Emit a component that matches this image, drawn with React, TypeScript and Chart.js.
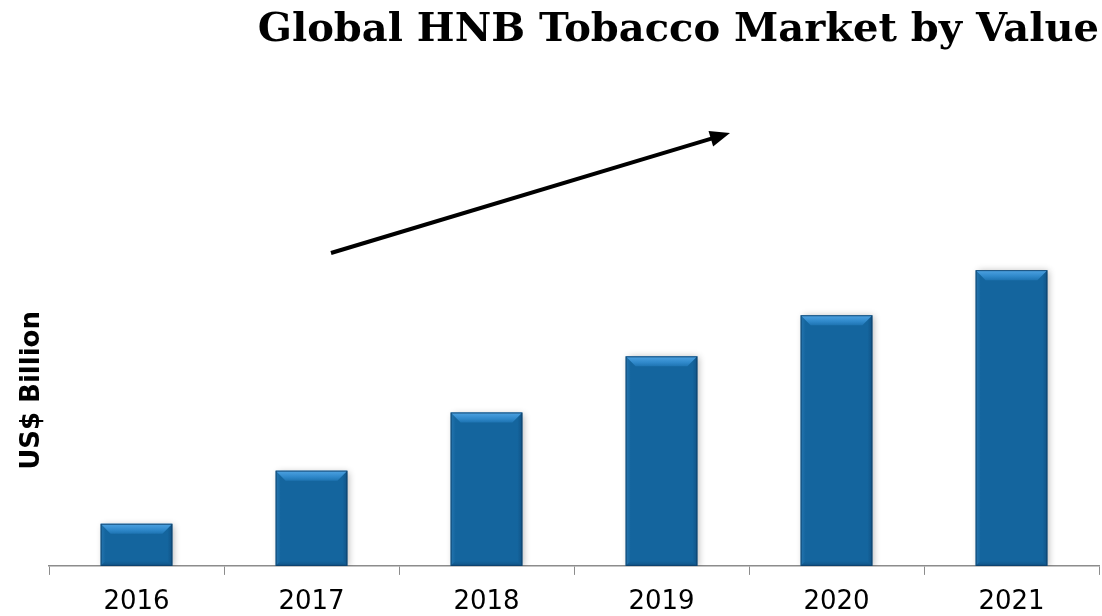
import React, { useEffect, useRef } from "react";
import { Chart, registerables } from "chart.js";

Chart.register(...registerables);

const categories = ["2016", "2017", "2018", "2019", "2020", "2021"];
const marketValue = [0.42, 0.95, 1.53, 2.09, 2.5, 2.95];
const yMax = 3.5;

const bevelPlugin = {
  id: "bevel",
  beforeDatasetDraw(chart: any) {
    const ctx = chart.ctx;
    ctx.save();
    ctx.shadowColor = "rgba(0,0,0,0.3)";
    ctx.shadowBlur = 7;
    ctx.shadowOffsetX = 2;
    ctx.shadowOffsetY = 1;
  },
  afterDatasetDraw(chart: any) {
    const ctx = chart.ctx;
    ctx.restore();
    const meta = chart.getDatasetMeta(0);
    meta.data.forEach((bar: any) => {
      const w = bar.width;
      const left = bar.x - w / 2;
      const right = bar.x + w / 2;
      const top = bar.y;
      const bottom = bar.base;
      const b = 10;
      const s = 5;
      ctx.save();
      // top bevel
      const g = ctx.createLinearGradient(0, top, 0, top + b);
      g.addColorStop(0, "#4fa3e2");
      g.addColorStop(0.6, "#3089cb");
      g.addColorStop(1, "#1e74b2");
      ctx.fillStyle = g;
      ctx.beginPath();
      ctx.moveTo(left, top);
      ctx.lineTo(right, top);
      ctx.lineTo(right - b, top + b);
      ctx.lineTo(left + b, top + b);
      ctx.closePath();
      ctx.fill();
      // left bevel
      const gl = ctx.createLinearGradient(left, 0, left + s, 0);
      gl.addColorStop(0, "rgba(70,150,210,0.35)");
      gl.addColorStop(1, "rgba(70,150,210,0)");
      ctx.fillStyle = gl;
      ctx.beginPath();
      ctx.moveTo(left, top);
      ctx.lineTo(left + b, top + b);
      ctx.lineTo(left + s, bottom - s);
      ctx.lineTo(left, bottom);
      ctx.closePath();
      ctx.fill();
      // right bevel
      const gr = ctx.createLinearGradient(right, 0, right - s, 0);
      gr.addColorStop(0, "rgba(10,50,90,0.35)");
      gr.addColorStop(1, "rgba(10,50,90,0)");
      ctx.fillStyle = gr;
      ctx.beginPath();
      ctx.moveTo(right, top);
      ctx.lineTo(right - b, top + b);
      ctx.lineTo(right - s, bottom - s);
      ctx.lineTo(right, bottom);
      ctx.closePath();
      ctx.fill();
      // bottom bevel
      const gb = ctx.createLinearGradient(0, bottom, 0, bottom - s);
      gb.addColorStop(0, "rgba(10,50,90,0.35)");
      gb.addColorStop(1, "rgba(10,50,90,0)");
      ctx.fillStyle = gb;
      ctx.beginPath();
      ctx.moveTo(left, bottom);
      ctx.lineTo(left + s, bottom - s);
      ctx.lineTo(right - s, bottom - s);
      ctx.lineTo(right, bottom);
      ctx.closePath();
      ctx.fill();
      // edge
      ctx.strokeStyle = "rgba(12,60,100,0.8)";
      ctx.lineWidth = 1;
      ctx.strokeRect(left + 0.5, top + 0.5, w - 1, bottom - top - 1);
      ctx.restore();
    });
  },
};

const arrowPlugin = {
  id: "arrow",
  afterDraw(chart: any) {
    const ctx = chart.ctx;
    const W = chart.width;
    const H = chart.height;
    const x1 = W * (331 / 1102);
    const y1 = H * (253 / 616);
    const x2 = W * (730 / 1102);
    const y2 = H * (133 / 616);
    const ang = Math.atan2(y2 - y1, x2 - x1);
    const hl = 20;
    const hw = 8;
    ctx.save();
    ctx.strokeStyle = "#000";
    ctx.fillStyle = "#000";
    ctx.lineWidth = 4;
    ctx.beginPath();
    ctx.moveTo(x1, y1);
    ctx.lineTo(x2 - hl * Math.cos(ang) * 0.8, y2 - hl * Math.sin(ang) * 0.8);
    ctx.stroke();
    ctx.beginPath();
    ctx.moveTo(x2, y2);
    ctx.lineTo(
      x2 - hl * Math.cos(ang) - hw * Math.sin(ang),
      y2 - hl * Math.sin(ang) + hw * Math.cos(ang)
    );
    ctx.lineTo(
      x2 - hl * Math.cos(ang) + hw * Math.sin(ang),
      y2 - hl * Math.sin(ang) - hw * Math.cos(ang)
    );
    ctx.closePath();
    ctx.fill();
    ctx.restore();
  },
};

export default function App() {
  const ref = useRef<HTMLCanvasElement>(null);
  useEffect(() => {
    document.body.style.margin = "0";
    const chart = new Chart(ref.current!, {
      type: "bar",
      data: {
        labels: categories,
        datasets: [
          {
            label: "US$ Billion",
            data: marketValue,
            backgroundColor: "#14659e",
            borderWidth: 0,
            barPercentage: 0.41,
            categoryPercentage: 1,
          },
        ],
      },
      options: {
        animation: false,
        responsive: false,
        maintainAspectRatio: false,
        layout: { padding: { left: 4, right: 3, top: 0, bottom: -13 } },
        plugins: {
          legend: { display: false },
          tooltip: { enabled: false },
          title: {
            display: true,
            text: "Global HNB Tobacco Market by Value",
            align: "end",
            color: "#000",
            font: { family: "DejaVu Serif", size: 40, weight: "bold" },
            padding: { top: 7, bottom: 160 },
          },
        },
        scales: {
          x: {
            border: { display: true, color: "#8c8c8c", width: 1.5 },
            grid: {
              display: true,
              drawOnChartArea: false,
              drawTicks: true,
              tickLength: 9,
              color: "#8c8c8c",
              offset: true,
            },
            ticks: {
              color: "#000",
              font: { family: "DejaVu Sans", size: 26, lineHeight: 0.85 },
              padding: 16,
            },
          },
          y: {
            min: 0,
            max: yMax,
            border: { display: false },
            grid: { display: false },
            ticks: { display: false },
            afterFit: (scale: any) => {
              scale.width = 45;
            },
            title: {
              display: true,
              text: "US$ Billion",
              color: "#000",
              font: { family: "DejaVu Sans", size: 26, weight: "bold" },
              padding: { top: 13, bottom: 0 },
            },
          },
        },
      },
      plugins: [bevelPlugin, arrowPlugin],
    });
    return () => chart.destroy();
  }, []);
  return (
    <div style={{ width: 1102, height: 616 }}>
      <canvas ref={ref} width={1102} height={616} style={{ display: "block" }} />
    </div>
  );
}
